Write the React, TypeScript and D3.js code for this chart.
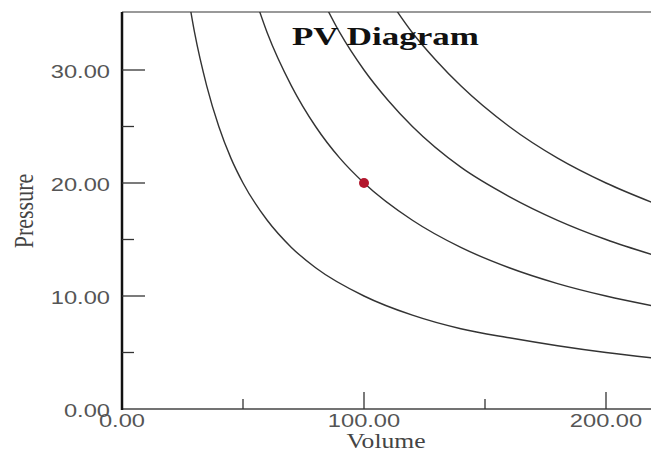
import React, { useEffect, useRef } from "react";
import * as d3 from "d3";

// Isotherms: volume -> pressure
const curve1Volume = [27, 30, 35, 40, 45, 50, 60, 70, 80, 100, 120, 140, 160, 180, 200, 220];
const curve1Pressure = [37.0, 33.3, 28.6, 25.0, 22.2, 20.0, 16.7, 14.3, 12.5, 10.0, 8.3, 7.1, 6.3, 5.6, 5.0, 4.5];
const curve2Volume = [54, 60, 70, 80, 90, 100, 120, 140, 160, 180, 200, 220];
const curve2Pressure = [37.0, 33.3, 28.6, 25.0, 22.2, 20.0, 16.7, 14.3, 12.5, 11.1, 10.0, 9.1];
const curve3Volume = [81, 90, 100, 110, 120, 140, 160, 180, 200, 220];
const curve3Pressure = [37.0, 33.3, 30.0, 27.3, 25.0, 21.4, 18.8, 16.7, 15.0, 13.6];
const curve4Volume = [108, 120, 130, 140, 160, 180, 200, 220];
const curve4Pressure = [37.0, 33.3, 30.8, 28.6, 25.0, 22.2, 20.0, 18.2];

// The marked state
const pointVolume = [100];
const pointPressure = [20];

// Ticks
const xMajorTicks = [0, 100, 200];
const xMinorTicks = [50, 150];
const yMajorTicks = [0, 10, 20, 30];
const yMinorTicks = [5, 15, 25];

const App: React.FC = () => {
  const ref = useRef<SVGSVGElement>(null);

  useEffect(() => {
    if (!ref.current) return;
    const svg = d3.select(ref.current);
    svg.selectAll("*").remove();

    const W = 651;
    const H = 452;
    const left = 122;
    const top = 12;
    const bottom = 409;
    const sx = 1.28; // the picture is stretched sideways

    const x = d3.scaleLinear().domain([0, (W - left) / 2.42]).range([left, W]);
    const y = d3.scaleLinear().domain([0, 30]).range([bottom, 70]);

    svg.append("rect").attr("width", W).attr("height", H).attr("fill", "white");

    svg
      .append("clipPath")
      .attr("id", "plot")
      .append("rect")
      .attr("x", left)
      .attr("y", top)
      .attr("width", W - left)
      .attr("height", bottom - top);

    // frame
    svg.append("line").attr("x1", left).attr("x2", W).attr("y1", top).attr("y2", top)
      .attr("stroke", "#777").attr("stroke-width", 1.5);
    svg.append("line").attr("x1", left).attr("x2", W).attr("y1", bottom).attr("y2", bottom)
      .attr("stroke", "#444").attr("stroke-width", 1.5);
    svg.append("line").attr("x1", left).attr("x2", left).attr("y1", top).attr("y2", bottom + 1)
      .attr("stroke", "#111").attr("stroke-width", 2.5);

    // ticks
    svg.selectAll(".ymaj").data(yMajorTicks.filter((d) => d > 0)).enter().append("line")
      .attr("x1", left).attr("x2", left + 23).attr("y1", (d) => y(d)).attr("y2", (d) => y(d))
      .attr("stroke", "#333").attr("stroke-width", 1.3);
    svg.selectAll(".ymin").data(yMinorTicks).enter().append("line")
      .attr("x1", left).attr("x2", left + 12).attr("y1", (d) => y(d)).attr("y2", (d) => y(d))
      .attr("stroke", "#333").attr("stroke-width", 1.3);
    svg.selectAll(".xmaj").data(xMajorTicks.filter((d) => d > 0)).enter().append("line")
      .attr("x1", (d) => x(d)).attr("x2", (d) => x(d)).attr("y1", bottom).attr("y2", bottom - 17)
      .attr("stroke", "#333").attr("stroke-width", 1.3);
    svg.selectAll(".xmin").data(xMinorTicks).enter().append("line")
      .attr("x1", (d) => x(d)).attr("x2", (d) => x(d)).attr("y1", bottom).attr("y2", bottom - 10)
      .attr("stroke", "#333").attr("stroke-width", 1.3);

    // tick labels
    const tickFont = "'Liberation Sans', Arial, sans-serif";
    svg.selectAll(".ylab").data(yMajorTicks).enter().append("text")
      .attr("transform", (d) => `translate(110,${y(d) + 8}) scale(${sx},1)`)
      .attr("text-anchor", "end")
      .style("font-family", tickFont).style("font-size", "18.5px").style("fill", "#555")
      .text((d) => d.toFixed(2));
    svg.selectAll(".xlab").data(xMajorTicks).enter().append("text")
      .attr("transform", (d) => `translate(${x(d)},427) scale(${sx},1)`)
      .attr("text-anchor", "middle")
      .style("font-family", tickFont).style("font-size", "18.5px").style("fill", "#555")
      .text((d) => d.toFixed(2));

    // isotherms
    const curves = [
      d3.zip(curve1Volume, curve1Pressure),
      d3.zip(curve2Volume, curve2Pressure),
      d3.zip(curve3Volume, curve3Pressure),
      d3.zip(curve4Volume, curve4Pressure),
    ];
    const line = d3
      .line<number[]>()
      .x((d) => x(d[0]))
      .y((d) => y(d[1]))
      .curve(d3.curveMonotoneX);

    svg.append("g").attr("clip-path", "url(#plot)")
      .selectAll("path").data(curves).enter().append("path")
      .attr("d", (d) => line(d) || "")
      .attr("fill", "none").attr("stroke", "#333").attr("stroke-width", 1.4);

    // title
    svg.append("text")
      .attr("transform", `translate(292,45) scale(1.4,1)`)
      .style("font-family", "'Liberation Serif', 'Times New Roman', serif")
      .style("font-size", "25px").style("font-weight", "bold").style("fill", "#111")
      .text("PV Diagram");

    // marked point
    svg.selectAll(".pt").data(d3.zip(pointVolume, pointPressure)).enter().append("circle")
      .attr("cx", (d) => x(d[0])).attr("cy", (d) => y(d[1])).attr("r", 5)
      .attr("fill", "#b3172d");

    // axis titles
    svg.append("text")
      .attr("transform", `translate(386,448) scale(${sx},1)`)
      .attr("text-anchor", "middle")
      .style("font-family", "'Liberation Serif', 'Times New Roman', serif")
      .style("font-size", "20px").style("fill", "#444")
      .text("Volume");
    svg.append("text")
      .attr("transform", `translate(33,211) scale(${sx},1) rotate(-90)`)
      .attr("text-anchor", "middle")
      .style("font-family", "'Liberation Serif', 'Times New Roman', serif")
      .style("font-size", "22px").style("fill", "#444")
      .text("Pressure");
  }, []);

  return (
    <svg
      ref={ref}
      width={651}
      height={452}
      style={{ position: "absolute", left: 0, top: 0 }}
    ></svg>
  );
};

export default App;
